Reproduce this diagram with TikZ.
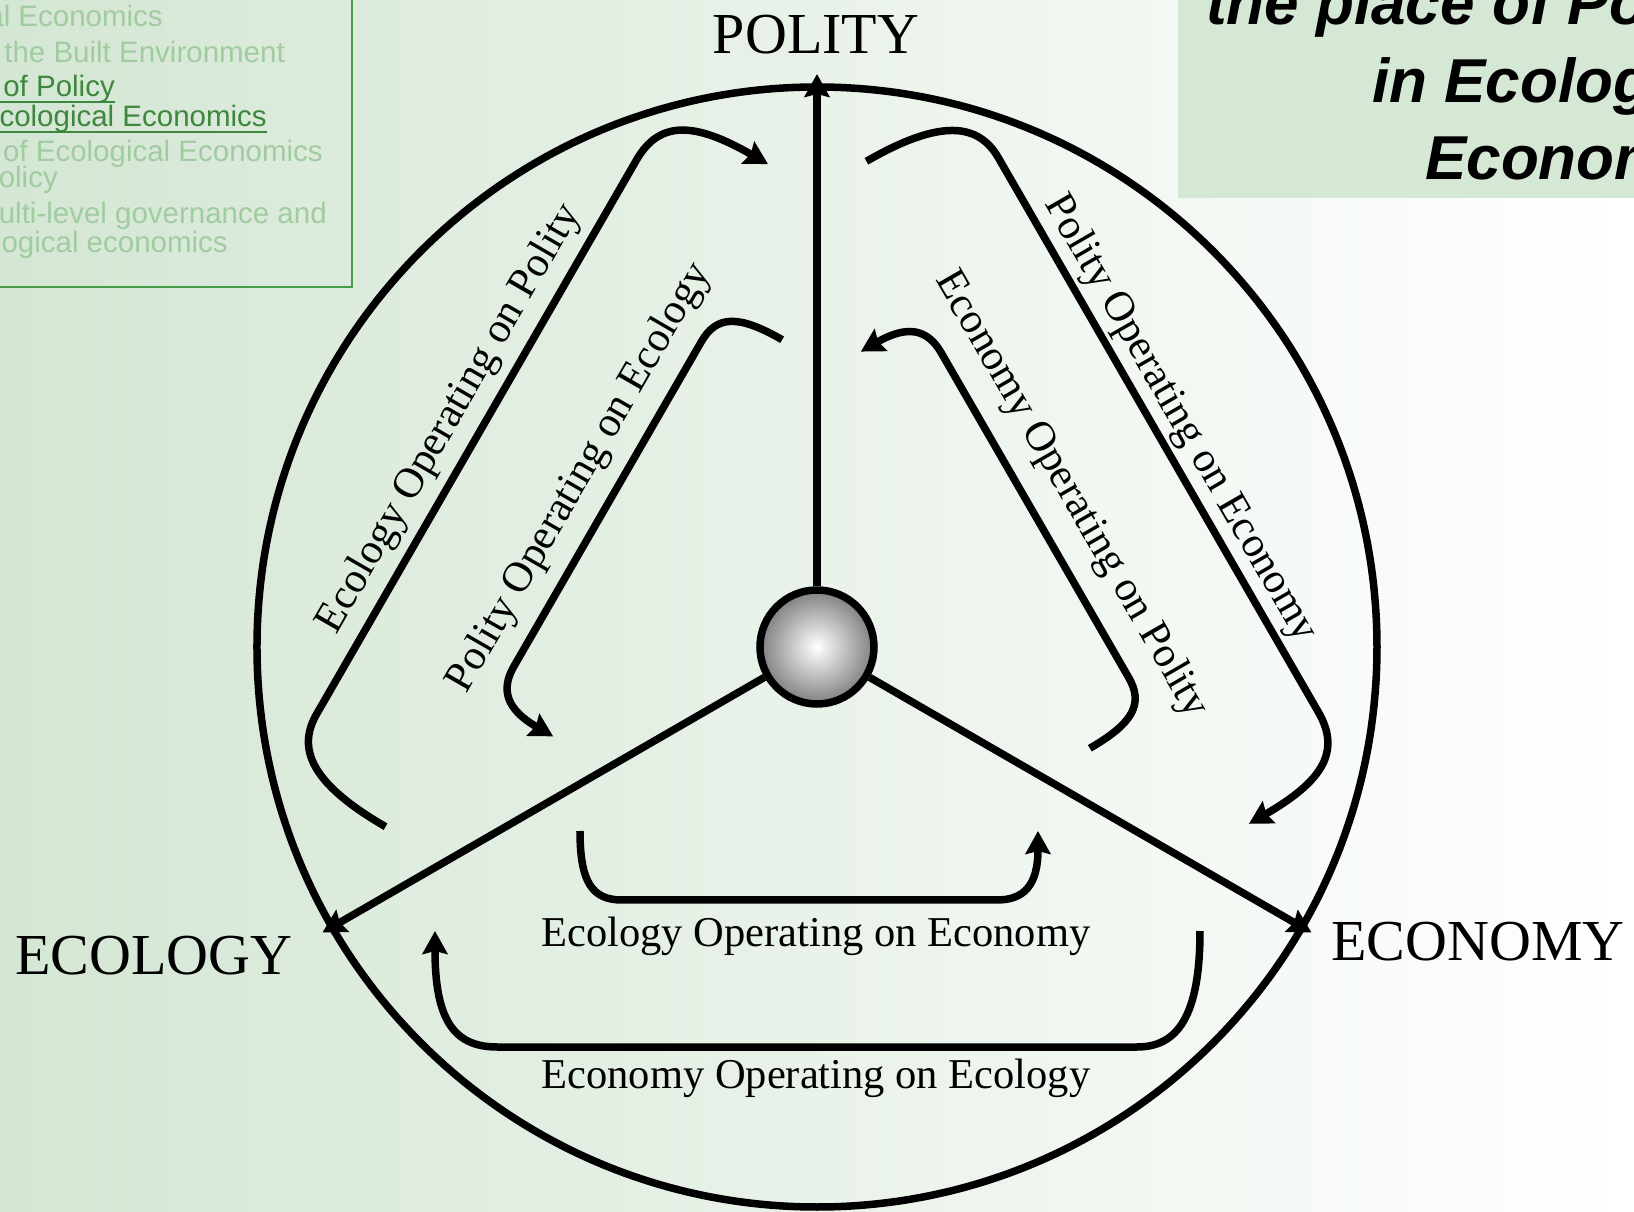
\documentclass[tikz,border=0pt]{standalone}
\usepackage{fontspec}
\setmainfont{Liberation Serif}
\newfontfamily\menufont{Liberation Sans}
\usetikzlibrary{arrows.meta}

\definecolor{bgleft}{RGB}{212,230,212}
\definecolor{menufade}{RGB}{160,204,160}
\definecolor{menuon}{RGB}{62,135,62}
\definecolor{menuframe}{RGB}{72,155,72}
\definecolor{titlefill}{RGB}{213,231,213}

\begin{document}
\begin{tikzpicture}[x=1pt,y=1pt,
    spoke/.style={line width=7.5pt,-{Stealth[length=23pt,width=25pt,inset=3pt]}},
    hub/.style={circle,draw,line width=7.5pt,minimum size=114pt,inner sep=0pt,
      inner color=white,outer color=black!50},
    pole/.style={font=\fontsize{58}{60}\selectfont,inner sep=0pt,anchor=base},
    oplab/.style={font=\fontsize{42.5}{44}\selectfont,inner sep=0pt},
    menu/.style={font=\menufont\fontsize{29.5}{31}\selectfont,inner sep=0pt,
      anchor=base east,text=menufade},
    headline/.style={font=\menufont\bfseries\itshape\fontsize{62}{64}\selectfont,
      inner sep=0pt,anchor=base west}]
  \useasboundingbox (-817,-565) rectangle (817,647);
  \clip (-817,-565) rectangle (817,647);
  \shade[left color=bgleft,right color=white] (-817,-565) rectangle (817,647);

  % menu box, top left
  \draw[menuframe,line width=2pt] (-830,360) rectangle (-465,660);
  \node[menu] (m1) at (-654,620) {al Economics};
  \node[menu] (m2) at (-532,584) {the Built Environment};
  \node[menu,text=menuon] (m3) at (-702,550) {of Policy};
  \node[menu,text=menuon] (m4) at (-550,520) {cological Economics};
  \node[menu] (m5) at (-494,485) {of Ecological Economics};
  \node[menu] (m6) at (-759,459) {olicy};
  \node[menu] (m7) at (-490,423) {ulti-level governance and};
  \node[menu] (m8) at (-589,394) {logical economics};
  \draw[menuon,line width=2pt] (-817,545) -- ([yshift=-5pt]m3.base east);
  \draw[menuon,line width=2pt] (-817,515) -- ([yshift=-5pt]m4.base east);

  % title box, top right
  \fill[titlefill] (361,449) rectangle (830,660);
  \node[headline] (t1) at (389,622) {the place of Po};
  \node[headline] (t2) at (555,544) {in Ecolog};
  \node[headline] (t3) at (608,467) {Econom};

  % wheel
  \draw[line width=7.5pt] (0,0) circle (560pt);
  \node[hub] (hub) at (0,0) {};
  \coordinate (polpt) at (90:573pt);
  \coordinate (ecolpt) at (210:571pt);
  \coordinate (econpt) at (330:571pt);
  \draw[spoke] (hub) -- (polpt);
  \draw[spoke] (hub) -- (ecolpt);
  \draw[spoke] (hub) -- (econpt);

  \node[pole] (polity) at (-1,593) {POLITY};
  \node[pole] (ecology) at (-663,-327) {ECOLOGY};
  \node[pole] (economy) at (661,-314) {ECONOMY};

  % the two loops of each sector
  \foreach \ang/\dx/\dy in {0/0/0,-120/6/10,120/-5/12}{
    \begin{scope}[shift={(\dx,\dy)},rotate=\ang]
      \draw[spoke] (-237,-184) .. controls (-237,-235) and (-225,-253) .. (-195,-253)
        -- (180,-253) .. controls (207,-253) and (221,-238) .. (221,-184);
      \draw[spoke] (383,-284) .. controls (383,-370) and (360,-400) .. (320,-400)
        -- (-320,-400) .. controls (-365,-400) and (-382,-370) .. (-382,-284);
    \end{scope}
  }

  \node[oplab] (ecoecon) at (-1,-289) {Ecology Operating on Economy};
  \node[oplab] (econeco) at (-1,-431) {Economy Operating on Ecology};
  \node[oplab,rotate=60] (ecopol) at (-367,228) {Ecology Operating on Polity};
  \node[oplab,rotate=60] (poleco) at (-237,169) {Polity Operating on Ecology};
  \node[oplab,rotate=-60] (polecon) at (363,228) {Polity Operating on Economy};
  \node[oplab,rotate=-60] (econpol) at (254,152) {Economy Operating on Polity};
\end{tikzpicture}
\end{document}
